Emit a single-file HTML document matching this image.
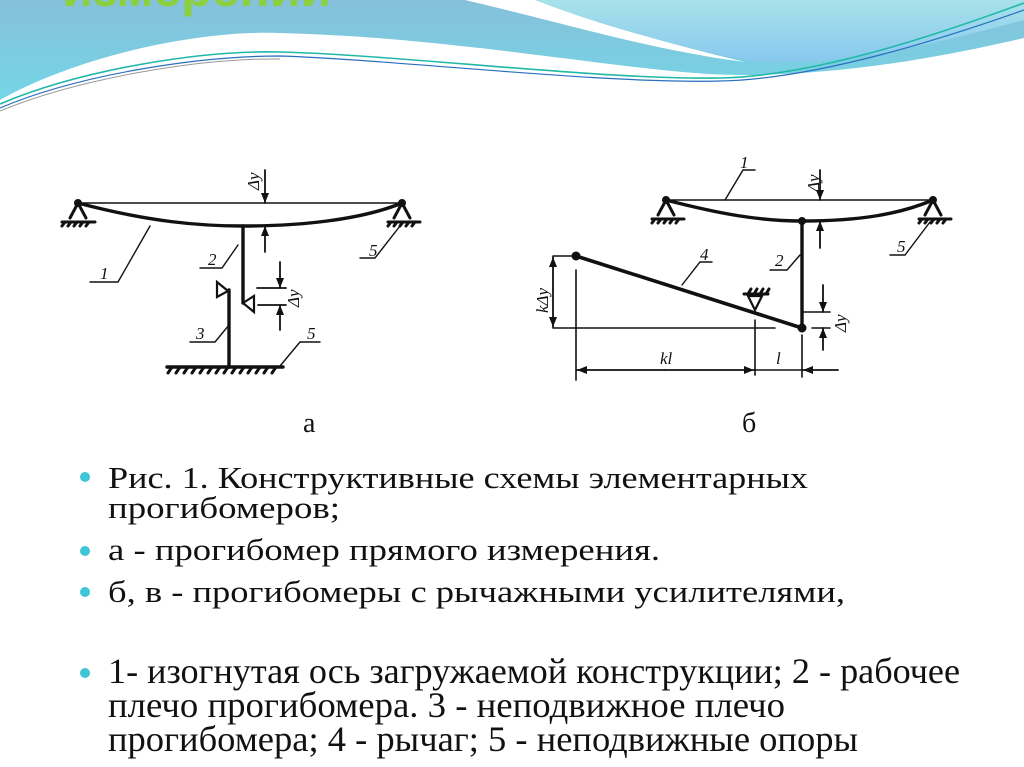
<!DOCTYPE html>
<html><head><meta charset="utf-8"><style>
html,body{margin:0;padding:0;background:#fff;}
body{width:1024px;height:767px;overflow:hidden;position:relative;}
svg{position:absolute;left:0;top:0;}
</style></head><body>
<svg width="1024" height="767" viewBox="0 0 1024 767" xmlns="http://www.w3.org/2000/svg">
<defs>
<linearGradient id="g1" x1="0" y1="0" x2="0" y2="1">
<stop offset="0" stop-color="#86c0da"/><stop offset="1" stop-color="#74d6e6"/></linearGradient>
<linearGradient id="g2" x1="0" y1="0" x2="0" y2="1">
<stop offset="0" stop-color="#a8e2ea"/><stop offset="1" stop-color="#88c8ee"/></linearGradient>
<marker id="ar" viewBox="0 0 10 10" refX="10" refY="5" markerWidth="10" markerHeight="10" orient="auto-start-reverse" markerUnits="userSpaceOnUse"><path d="M0,1 L10,5 L0,9 Z" fill="#111"/></marker>
</defs>
<path d="M0,100 C80,55 200,30 280,33 C380,36 440,44 480,48 C600,62 680,75 740,75 C850,75 950,55 1024,38 L1024,0 L0,0 Z" fill="url(#g1)"/>
<path d="M530,0 C600,22 680,50 760,62 C850,66 950,40 1024,20 L1024,0 Z" fill="url(#g2)"/>
<path d="M465,0 C560,22 650,50 745,62 C660,42 580,18 535,0 Z" fill="#fff"/>
<path d="M0,104 C80,70 200,50 280,52 C400,55 600,80 720,78 C820,76 950,30 1024,3" fill="none" stroke="#20b8a8" stroke-width="1.6"/>
<path d="M0,108 C80,74 200,56 280,56 C400,60 600,84 720,81 C820,79 950,36 1024,10" fill="none" stroke="#2a6fc0" stroke-width="1.2"/>
<path d="M0,111 C80,78 200,58 280,59" fill="none" stroke="#999" stroke-width="1"/>
<text x="62" y="6" font-family="Liberation Sans, sans-serif" font-weight="bold" font-size="50" fill="#8ccf3f">измерений</text>

<g stroke="#111" fill="none" stroke-linecap="round">
<line x1="78" y1="203" x2="402" y2="203" stroke-width="1.6"/>
<path d="M78,203 C150,222 200,226 243,226 C300,226 360,220 402,203" stroke-width="3.4"/>
<circle cx="78" cy="203" r="3.5" fill="#111"/><circle cx="402" cy="203" r="3.5" fill="#111"/>
<path d="M78,203 L70,218 M78,203 L86,218" stroke-width="3"/>
<path d="M62,222 L95,222 M65,222 l-3,4 M71,222 l-3,4 M77,222 l-3,4 M83,222 l-3,4 M89,222 l-3,4" stroke-width="3"/>
<path d="M402,203 L394,218 M402,203 L410,218" stroke-width="3"/>
<path d="M388,222 L420,222 M391,222 l-3,4 M397,222 l-3,4 M403,222 l-3,4 M409,222 l-3,4 M415,222 l-3,4" stroke-width="3"/>
<line x1="243" y1="226" x2="243" y2="303" stroke-width="3.4"/>
<path d="M243,303 L254,296 L254,312 Z" stroke-width="2.2"/>
<line x1="229" y1="290" x2="229" y2="367" stroke-width="3.4"/>
<path d="M217,282 L228,291 L217,297 Z" stroke-width="2.2"/>
<line x1="167" y1="367" x2="283" y2="367" stroke-width="3.4"/>
<path d="M172,367 l-4,6 M180,367 l-4,6 M188,367 l-4,6 M196,367 l-4,6 M204,367 l-4,6 M212,367 l-4,6 M220,367 l-4,6 M228,367 l-4,6 M236,367 l-4,6 M244,367 l-4,6 M252,367 l-4,6 M260,367 l-4,6 M268,367 l-4,6 M276,367 l-4,6" stroke-width="3"/>
<line x1="265" y1="170" x2="265" y2="203" stroke-width="1.8" marker-end="url(#ar)"/>
<line x1="265" y1="252" x2="265" y2="226" stroke-width="1.8" marker-end="url(#ar)"/>
<line x1="280" y1="262" x2="280" y2="288" stroke-width="1.8" marker-end="url(#ar)"/>
<line x1="280" y1="330" x2="280" y2="305" stroke-width="1.8" marker-end="url(#ar)"/>
<line x1="257" y1="288" x2="286" y2="288" stroke-width="1.8"/>
<line x1="258" y1="305" x2="286" y2="305" stroke-width="1.8"/>
<path d="M150,226 L118,282 L90,282" stroke-width="1.4"/>
<path d="M238,245 L222,268 L200,268" stroke-width="1.4"/>
<path d="M400,226 L375,258 L360,258" stroke-width="1.4"/>
<path d="M229,325 L215,342 L190,342" stroke-width="1.4"/>
<path d="M280,366 L300,342 L320,342" stroke-width="1.4"/>

<line x1="666" y1="200" x2="933" y2="200" stroke-width="1.6"/>
<path d="M666,200 C720,214 760,221 802,221 C860,221 900,214 933,200" stroke-width="3.4"/>
<circle cx="666" cy="200" r="3.5" fill="#111"/><circle cx="933" cy="200" r="3.5" fill="#111"/><circle cx="802" cy="221" r="3.5" fill="#111"/>
<path d="M666,200 L658,215 M666,200 L674,215" stroke-width="3"/>
<path d="M652,219 L684,219 M655,219 l-3,4 M661,219 l-3,4 M667,219 l-3,4 M673,219 l-3,4 M679,219 l-3,4" stroke-width="3"/>
<path d="M933,200 L925,215 M933,200 L941,215" stroke-width="3"/>
<path d="M919,219 L951,219 M922,219 l-3,4 M928,219 l-3,4 M934,219 l-3,4 M940,219 l-3,4 M946,219 l-3,4" stroke-width="3"/>
<line x1="802" y1="221" x2="802" y2="328" stroke-width="3.4"/>
<line x1="576" y1="256" x2="802" y2="328" stroke-width="3.6"/>
<circle cx="576" cy="256" r="4" fill="#111"/><circle cx="802" cy="328" r="4" fill="#111"/>
<path d="M755,310 L748,296 L762,296 Z" stroke-width="2.2"/>
<path d="M744,294 L768,294 M748,294 l3,-5 M754,294 l3,-5 M760,294 l3,-5 M766,294 l3,-5" stroke-width="3"/>
<line x1="553" y1="328" x2="775" y2="328" stroke-width="1.6"/>
<line x1="553" y1="256" x2="576" y2="256" stroke-width="1.6"/>
<line x1="553" y1="290" x2="553" y2="257" stroke-width="1.8" marker-end="url(#ar)"/>
<line x1="553" y1="290" x2="553" y2="327" stroke-width="1.8" marker-end="url(#ar)"/>
<line x1="576" y1="270" x2="576" y2="380" stroke-width="1.6"/>
<line x1="755" y1="320" x2="755" y2="375" stroke-width="1.6"/>
<line x1="802" y1="335" x2="802" y2="377" stroke-width="1.6"/>
<line x1="665" y1="370" x2="577" y2="370" stroke-width="1.8" marker-end="url(#ar)"/>
<line x1="665" y1="370" x2="754" y2="370" stroke-width="1.8" marker-end="url(#ar)"/>
<line x1="755" y1="370" x2="802" y2="370" stroke-width="1.6"/>
<line x1="838" y1="370" x2="803" y2="370" stroke-width="1.8" marker-end="url(#ar)"/>
<line x1="820" y1="170" x2="820" y2="200" stroke-width="1.8" marker-end="url(#ar)"/>
<line x1="820" y1="248" x2="820" y2="221" stroke-width="1.8" marker-end="url(#ar)"/>
<line x1="823" y1="285" x2="823" y2="312" stroke-width="1.8" marker-end="url(#ar)"/>
<line x1="823" y1="350" x2="823" y2="328" stroke-width="1.8" marker-end="url(#ar)"/>
<line x1="802" y1="312" x2="830" y2="312" stroke-width="1.6"/>
<line x1="812" y1="328" x2="830" y2="328" stroke-width="1.6"/>
<path d="M725,200 L743,170 L755,170" stroke-width="1.4"/>
<path d="M800,255 L787,270 L770,270" stroke-width="1.4"/>
<path d="M682,285 L700,262 L712,262" stroke-width="1.4"/>
<path d="M930,222 L905,255 L890,255" stroke-width="1.4"/>
</g>
<g font-family="Liberation Serif, serif" font-size="17" fill="#111" font-style="italic">
<text x="100" y="279">1</text><text x="208" y="265">2</text><text x="369" y="256">5</text><text x="196" y="339">3</text><text x="307" y="339">5</text>
<text transform="translate(259,190) rotate(-90)">Δy</text>
<text transform="translate(299,307) rotate(-90)">Δy</text>
<text x="740" y="168">1</text><text x="775" y="266">2</text><text x="700" y="260">4</text><text x="897" y="252">5</text>
<text transform="translate(819,192) rotate(-90)">Δy</text>
<text transform="translate(846,332) rotate(-90)">Δy</text>
<text transform="translate(548,313) rotate(-90)">kΔy</text>
<text x="660" y="364">kl</text><text x="776" y="364">l</text>
</g>
<g font-family="Liberation Serif, serif" font-size="28" fill="#111">
<text x="303" y="432">а</text><text x="742" y="432">б</text>
</g>
<g fill="#3ec6d6">
<circle cx="85" cy="477" r="5"/><circle cx="85" cy="551" r="5"/><circle cx="85" cy="592" r="5"/><circle cx="85" cy="673" r="5"/>
</g>
<g font-family="Liberation Serif, serif" font-size="31" fill="#111">
<text x="108" y="488" textLength="700" lengthAdjust="spacingAndGlyphs">Рис. 1. Конструктивные схемы элементарных</text>
<text x="108" y="518" textLength="232" lengthAdjust="spacingAndGlyphs">прогибомеров;</text>
<text x="108" y="560" textLength="552" lengthAdjust="spacingAndGlyphs">а - прогибомер прямого измерения.</text>
<text x="108" y="602" textLength="737" lengthAdjust="spacingAndGlyphs">б, в - прогибомеры с рычажными усилителями,</text>
</g>
<g font-family="Liberation Serif, serif" font-size="36" fill="#111">
<text x="108" y="683" textLength="852" lengthAdjust="spacingAndGlyphs">1- изогнутая ось загружаемой конструкции; 2 - рабочее</text>
<text x="108" y="717" textLength="677" lengthAdjust="spacingAndGlyphs">плечо прогибомера. 3 - неподвижное плечо</text>
<text x="108" y="751" textLength="750" lengthAdjust="spacingAndGlyphs">прогибомера; 4 - рычаг; 5 - неподвижные опоры</text>
</g>
</svg>
</body></html>
